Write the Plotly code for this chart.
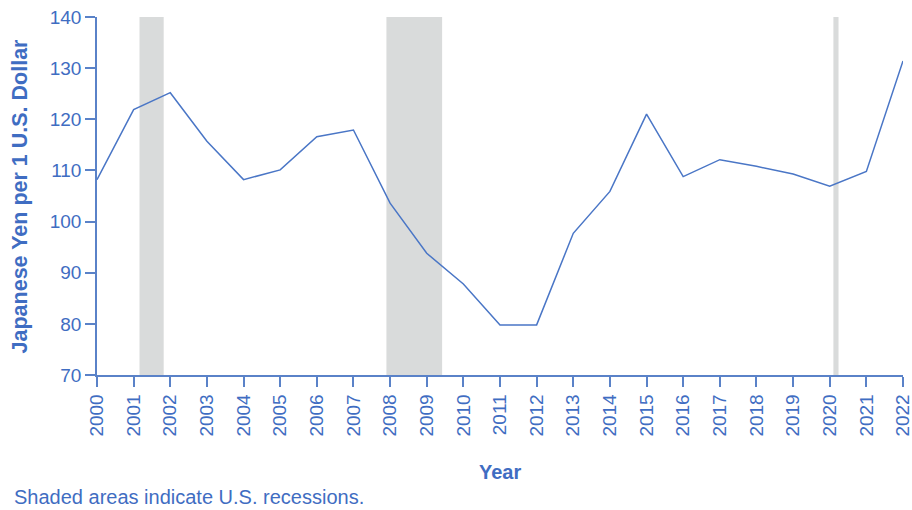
import plotly.graph_objects as go

# Annual average exchange rate, yen per U.S. dollar
years = list(range(2000, 2023))
yen_per_dollar = [108.2, 121.9, 125.2, 115.7, 108.2, 110.1, 116.6, 117.9,
                  103.6, 93.8, 87.8, 79.8, 79.8, 97.7, 105.9, 121.0,
                  108.8, 112.1, 110.8, 109.3, 106.9, 109.8, 131.4]

# U.S. recession periods (fractional years)
recession_starts = [2001.16, 2007.90, 2020.10]
recession_ends = [2001.82, 2009.42, 2020.24]

y_ticks = [70, 80, 90, 100, 110, 120, 130, 140]

AXIS_BLUE = "#5a82c8"
TEXT_BLUE = "#3f6dc2"
LINE_BLUE = "#4a76c6"
SHADE = "#d9dbdb"
FONT = "Liberation Sans, Arial, sans-serif"

fig = go.Figure()

fig.add_trace(go.Scatter(
    x=years, y=yen_per_dollar, mode="lines",
    line=dict(color=LINE_BLUE, width=1.5),
    hoverinfo="x+y", showlegend=False,
))

for x0, x1 in zip(recession_starts, recession_ends):
    fig.add_shape(type="rect", xref="x", yref="paper", x0=x0, x1=x1,
                  y0=0, y1=1, fillcolor=SHADE, line=dict(width=0),
                  layer="below")

fig.update_xaxes(
    range=[2000, 2022], tickmode="array", tickvals=years,
    ticktext=[str(y) for y in years], tickangle=-90,
    ticklabeloverflow="allow", automargin=False,
    showline=True, linecolor=AXIS_BLUE, linewidth=1.5,
    ticks="outside", ticklen=10, tickcolor=AXIS_BLUE, tickwidth=1.5,
    showgrid=False, zeroline=False,
    tickfont=dict(family=FONT, size=19, color=TEXT_BLUE),
)
fig.update_yaxes(
    range=[70, 140], tickmode="array", tickvals=y_ticks,
    automargin=False,
    showline=True, linecolor=AXIS_BLUE, linewidth=1.5,
    ticks="outside", ticklen=10, tickcolor=AXIS_BLUE, tickwidth=1.5,
    showgrid=False, zeroline=False,
    tickfont=dict(family=FONT, size=19, color=TEXT_BLUE),
)

fig.add_annotation(
    text="<b>Japanese Yen per 1 U.S. Dollar</b>", textangle=-90,
    xref="paper", yref="paper", x=-0.095, y=0.5,
    xanchor="center", yanchor="middle", showarrow=False,
    font=dict(family=FONT, size=21.5, color=TEXT_BLUE),
)
fig.add_annotation(
    text="<b>Year</b>", xref="paper", yref="paper", x=0.5, y=-0.272,
    xanchor="center", yanchor="middle", showarrow=False,
    font=dict(family=FONT, size=20, color=TEXT_BLUE),
)
fig.add_annotation(
    text="Shaded areas indicate U.S. recessions.",
    xref="paper", yref="paper", x=-0.106, y=-0.34,
    xanchor="left", yanchor="middle", showarrow=False,
    font=dict(family=FONT, size=20, color=TEXT_BLUE),
)

fig.update_layout(
    width=912, height=510,
    margin=dict(l=97, r=9, t=17, b=135),
    plot_bgcolor="white", paper_bgcolor="white",
)

fig.write_html("out.html")
